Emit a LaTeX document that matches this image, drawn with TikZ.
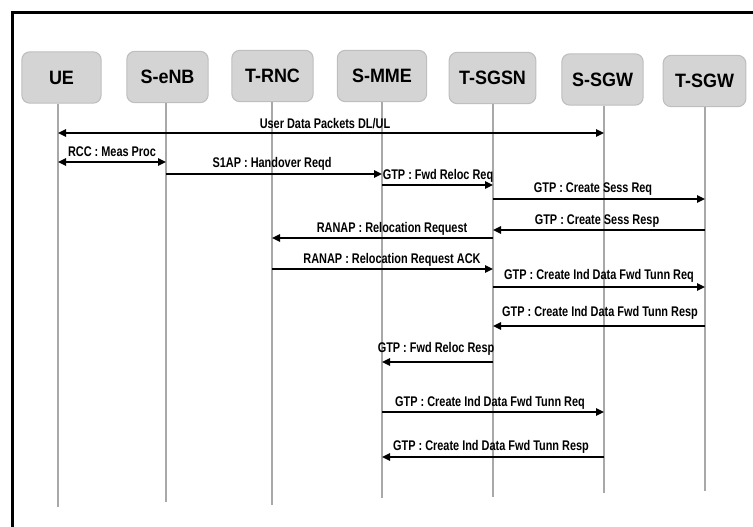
\documentclass[tikz,border=0pt]{standalone}
\usepackage{fontspec}
\setmainfont{Liberation Sans}
\newfontfamily\msgfont{Liberation Sans}[FakeStretch=0.78]
\newfontfamily\entfont{Liberation Sans}[FakeStretch=0.93]
\usetikzlibrary{arrows.meta}
\definecolor{boxfill}{HTML}{D4D4D4}
\definecolor{boxline}{HTML}{BEBEBE}
\definecolor{lifegray}{HTML}{A8A8A8}

\begin{document}
\begin{tikzpicture}[x=0.75pt,y=-0.75pt,
  entity/.style={draw=boxline, fill=boxfill, rounded corners=6pt, line width=0.8pt,
    minimum height=38.5pt, font=\entfont\bfseries\fontsize{14.5}{16}\selectfont, inner sep=0pt},
  lifeline/.style={draw=lifegray, line width=1.1pt},
  msg/.style={draw=black, line width=1.1pt, -{Triangle[length=6pt,width=5.5pt]}},
  dmsg/.style={draw=black, line width=1.1pt, {Triangle[length=6pt,width=5.5pt]}-{Triangle[length=6pt,width=5.5pt]}},
  lbl/.style={font=\msgfont\bfseries\fontsize{10.5}{12}\selectfont, inner sep=0pt, anchor=base}]

\useasboundingbox (0,0) rectangle (753,527);

% outer frame (only the top and left edges fall inside the page)
\draw[line width=2.2pt, line cap=rect] (12.5,527) -- (12.5,12.5) -- (753,12.5);

% entities
\node[entity, minimum width=59.5pt] (UE)   at (61.5,77.5) {UE};
\node[entity, minimum width=61pt]   (SENB) at (167.5,77)  {S-eNB};
\node[entity, minimum width=61pt]   (TRNC) at (272.5,76)  {T-RNC};
\node[entity, minimum width=67pt]   (SMME) at (382,76)    {S-MME};
\node[entity, minimum width=65pt]   (TSGSN) at (492.5,78) {T-SGSN};
\node[entity, minimum width=61pt]   (SSGW) at (602.5,79.5) {S-SGW};
\node[entity, minimum width=62pt]   (TSGW) at (704.5,81)  {T-SGW};

% lifeline ends
\coordinate (ueB)    at (58,507);
\coordinate (senbB)  at (166,502);
\coordinate (trncB)  at (272,505);
\coordinate (smmeB)  at (382,498);
\coordinate (tsgsnB) at (493,497);
\coordinate (ssgwB)  at (604,493);
\coordinate (tsgwB)  at (705,491);

\draw[lifeline] (ueB |- UE.south) -- (ueB);
\draw[lifeline] (senbB |- SENB.south) -- (senbB);
\draw[lifeline] (trncB |- TRNC.south) -- (trncB);
\draw[lifeline] (smmeB |- SMME.south) -- (smmeB);
\draw[lifeline] (tsgsnB |- TSGSN.south) -- (tsgsnB);
\draw[lifeline] (ssgwB |- SSGW.south) -- (ssgwB);
\draw[lifeline] (tsgwB |- TSGW.south) -- (tsgwB);

% message rows
\coordinate (r1) at (0,133);
\coordinate (r2) at (0,162);
\coordinate (r3) at (0,174);
\coordinate (r4) at (0,185);
\coordinate (r5) at (0,199);
\coordinate (r6) at (0,230);
\coordinate (r7) at (0,238);
\coordinate (r8) at (0,269);
\coordinate (r9) at (0,287);
\coordinate (r10) at (0,326);
\coordinate (r11) at (0,362);
\coordinate (r12) at (0,412);
\coordinate (r13) at (0,457);

% messages
\draw[dmsg] (ueB |- r1) -- (ssgwB |- r1);
\draw[dmsg] (ueB |- r2) -- (senbB |- r2);
\draw[msg] (senbB |- r3) -- (smmeB |- r3);
\draw[msg] (smmeB |- r4) -- (tsgsnB |- r4);
\draw[msg] (tsgsnB |- r5) -- (tsgwB |- r5);
\draw[msg] (tsgwB |- r6) -- (tsgsnB |- r6);
\draw[msg] (tsgsnB |- r7) -- (trncB |- r7);
\draw[msg] (trncB |- r8) -- (tsgsnB |- r8);
\draw[msg] (tsgsnB |- r9) -- (tsgwB |- r9);
\draw[msg] (tsgwB |- r10) -- (tsgsnB |- r10);
\draw[msg] (tsgsnB |- r11) -- (smmeB |- r11);
\draw[msg] (smmeB |- r12) -- (ssgwB |- r12);
\draw[msg] (ssgwB |- r13) -- (smmeB |- r13);

% message labels
\node[lbl] (l1)  at (325,129) {User Data Packets DL/UL};
\node[lbl] (l2)  at (112,157) {RCC : Meas Proc};
\node[lbl] (l3)  at (272,168) {S1AP : Handover Reqd};
\node[lbl] (l4)  at (438,180) {GTP : Fwd Reloc Req};
\node[lbl] (l5)  at (593,193) {GTP : Create Sess Req};
\node[lbl] (l6)  at (597,225) {GTP : Create Sess Resp};
\node[lbl] (l7)  at (392,233) {RANAP : Relocation Request};
\node[lbl] (l8)  at (392,264) {RANAP : Relocation Request ACK};
\node[lbl] (l9)  at (599,280) {GTP : Create Ind Data Fwd Tunn Req};
\node[lbl] (l10) at (600,316) {GTP : Create Ind Data Fwd Tunn Resp};
\node[lbl] (l11) at (436,352) {GTP : Fwd Reloc Resp};
\node[lbl] (l12) at (490,406) {GTP : Create Ind Data Fwd Tunn Req};
\node[lbl] (l13) at (491,450) {GTP : Create Ind Data Fwd Tunn Resp};
\end{tikzpicture}
\end{document}
